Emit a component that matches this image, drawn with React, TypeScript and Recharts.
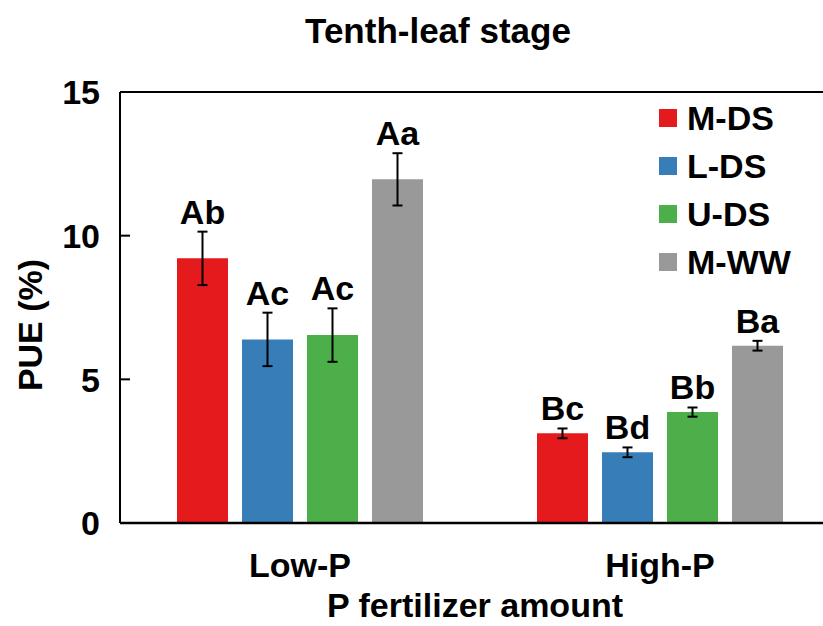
import { BarChart, Bar, XAxis, YAxis, ErrorBar, LabelList, ReferenceLine } from 'recharts'

const FONT = '"Liberation Sans", Arial, sans-serif'
const FS = 34

const categories = ['Low-P', 'High-P']
const seriesNames = ['M-DS', 'L-DS', 'U-DS', 'M-WW']
const seriesColors = ['#e41a1c', '#377eb8', '#4daf4a', '#999999']

const mdsValues = [9.21, 3.12]
const mdsErrors = [0.93, 0.17]
const mdsLetters = ['Ab', 'Bc']

const ldsValues = [6.39, 2.46]
const ldsErrors = [0.93, 0.17]
const ldsLetters = ['Ac', 'Bd']

const udsValues = [6.54, 3.86]
const udsErrors = [0.93, 0.16]
const udsLetters = ['Ac', 'Bb']

const mwwValues = [11.96, 6.17]
const mwwErrors = [0.91, 0.17]
const mwwLetters = ['Aa', 'Ba']

const yTicks = [0, 5, 10, 15]

const seriesValues = [mdsValues, ldsValues, udsValues, mwwValues]
const seriesErrors = [mdsErrors, ldsErrors, udsErrors, mwwErrors]
const seriesLetters = [mdsLetters, ldsLetters, udsLetters, mwwLetters]

const data = categories.map((name, i) => {
  const row: Record<string, string | number> = { name }
  seriesNames.forEach((s, k) => {
    row[s] = seriesValues[k][i]
    row[s + '_err'] = seriesErrors[k][i]
  })
  return row
})

// letter sits just above the top of the error bar
const makeLetterLabel = (k: number) => (props: any) => {
  const { x, y, width, height, index, value } = props
  const perUnit = height / value
  const errTop = y - seriesErrors[k][index] * perUnit
  return (
    <text
      x={x + width / 2}
      y={errTop - 8}
      textAnchor='middle'
      fontSize={FS}
      fontWeight='bold'
      fontFamily={FONT}
      fill='#000'
    >
      {seriesLetters[k][index]}
    </text>
  )
}

const YTick = (props: any) => {
  const { x, y, payload } = props
  return (
    <g>
      <line x1={x + 20} x2={x + 30} y1={y} y2={y} stroke='#000' strokeWidth={2} />
      <text
        x={x}
        y={y}
        dy='0.36em'
        textAnchor='end'
        fontSize={FS}
        fontWeight='bold'
        fontFamily={FONT}
        fill='#000'
      >
        {payload.value}
      </text>
    </g>
  )
}

const LegendBox = () => (
  <div
    style={{
      position: 'absolute',
      left: 659,
      top: 94,
      fontFamily: FONT,
      fontWeight: 'bold',
      fontSize: FS,
      color: '#000',
    }}
  >
    {seriesNames.map((s, k) => (
      <div key={s} style={{ display: 'flex', alignItems: 'center', height: 48 }}>
        <span style={{ width: 18, height: 18, background: seriesColors[k], marginRight: 10 }} />
        <span style={{ lineHeight: `${FS}px` }}>{s}</span>
      </div>
    ))}
  </div>
)

const App = () => {
  return (
    <div
      style={{
        position: 'absolute',
        left: 0,
        top: 0,
        width: 823,
        height: 626,
        overflow: 'hidden',
        background: '#fff',
        fontFamily: FONT,
      }}
    >
      <div
        style={{
          position: 'absolute',
          left: 438,
          top: 13,
          transform: 'translateX(-50%)',
          fontSize: 35,
          lineHeight: '35px',
          fontWeight: 'bold',
          whiteSpace: 'nowrap',
          color: '#000',
        }}
      >
        Tenth-leaf stage
      </div>
      <BarChart
        width={860}
        height={626}
        data={data}
        margin={{ top: 92, right: 20, bottom: 73, left: 0 }}
        barSize={51}
        barGap={14}
      >
        <XAxis
          dataKey='name'
          height={30}
          axisLine={{ stroke: '#000', strokeWidth: 2.5 }}
          tickLine={false}
          tickSize={0}
          tickMargin={30}
          tick={{ fontSize: FS, fontWeight: 'bold', fill: '#000', fontFamily: FONT }}
          label={() => (
            <text
              x={475}
              y={617}
              textAnchor='middle'
              fontSize={FS}
              fontWeight='bold'
              fontFamily={FONT}
              fill='#000'
            >
              P fertilizer amount
            </text>
          )}
        />
        <YAxis
          width={120}
          domain={[0, 15]}
          ticks={yTicks}
          interval={0}
          axisLine={{ stroke: '#000', strokeWidth: 2 }}
          tickLine={false}
          tickSize={0}
          tickMargin={20}
          tick={<YTick />}
          label={() => (
            <text
              x={42}
              y={325}
              transform='rotate(-90 42 325)'
              textAnchor='middle'
              fontSize={FS}
              fontWeight='bold'
              fontFamily={FONT}
              fill='#000'
            >
              PUE (%)
            </text>
          )}
        />
        <ReferenceLine y={15} stroke='#000' strokeWidth={2} />
        {seriesNames.map((s, k) => (
          <Bar key={s} dataKey={s} fill={seriesColors[k]} isAnimationActive={false}>
            <ErrorBar dataKey={s + '_err'} width={5} stroke='#000' strokeWidth={2} />
            <LabelList dataKey={s} content={makeLetterLabel(k)} />
          </Bar>
        ))}
      </BarChart>
      <LegendBox />
    </div>
  )
}

export default App
